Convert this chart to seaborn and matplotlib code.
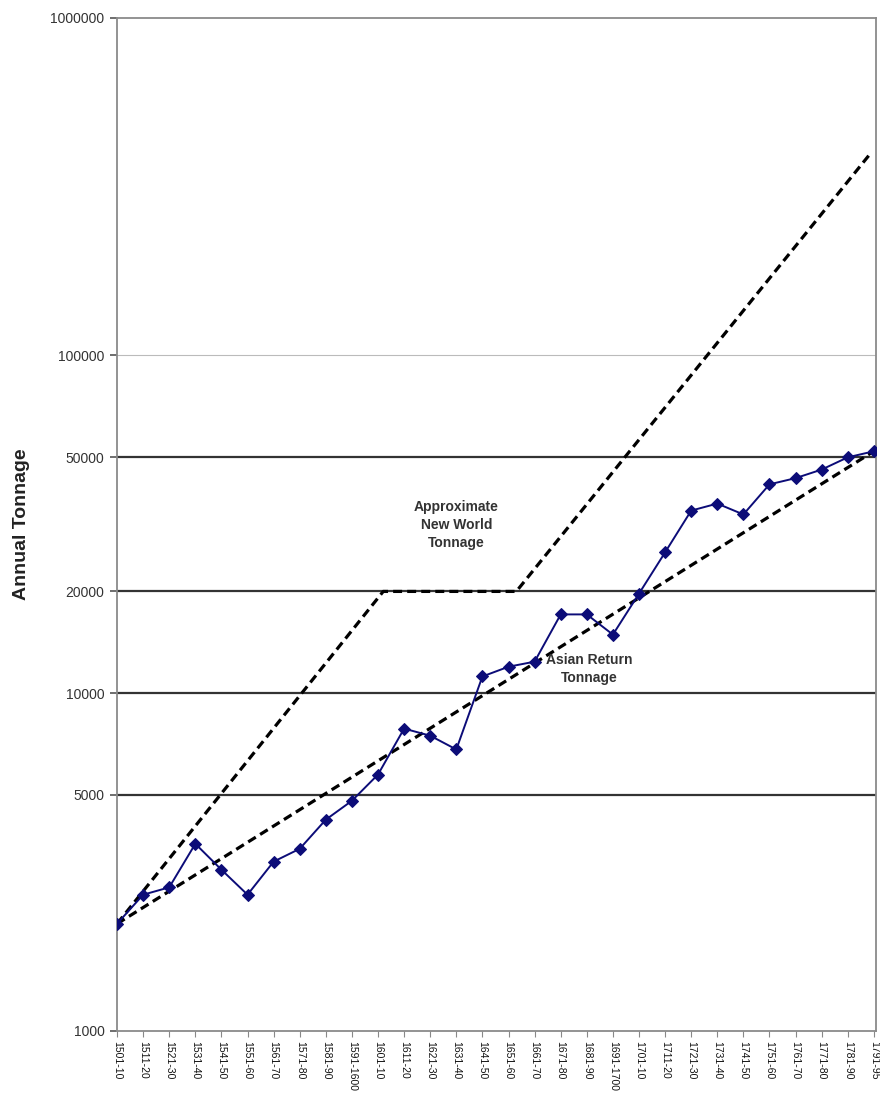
import pandas as pd
import matplotlib.pyplot as plt
import seaborn as sns

periods = ["1501-10", "1511-20", "1521-30", "1531-40", "1541-50", "1551-60",
           "1561-70", "1571-80", "1581-90", "1591-1600", "1601-10", "1611-20",
           "1621-30", "1631-40", "1641-50", "1651-60", "1661-70", "1671-80",
           "1681-90", "1691-1700", "1701-10", "1711-20", "1721-30", "1731-40",
           "1741-50", "1751-60", "1761-70", "1771-80", "1781-90", "1791-95"]
asian_tonnage = [2075, 2530, 2660, 3580, 3000, 2530, 3170, 3460, 4220, 4800,
                 5740, 7850, 7480, 6810, 11200, 11970, 12390, 17100, 17100, 14900,
                 19700, 26100, 34700, 36400, 33800, 41500, 43300, 45900, 49900, 52000]

# dashed trend lines (start year of period, tonnage)
asian_trend_years = [1501, 1791]
asian_trend = [2075, 52000]
nw_years = [1501, 1603, 1654, 1789]
nw_tonnage = [2075, 20000, 20000, 390000]

ref_levels = [5000, 10000, 20000, 50000]
ytick_values = [1000, 5000, 10000, 20000, 50000, 100000, 1000000]

years = [int(p[:4]) for p in periods]
df = pd.DataFrame({"Year": years, "Tonnage": asian_tonnage})

sns.set_style("white")
plt.rcParams["font.family"] = ["Liberation Sans", "DejaVu Sans"]

fig = plt.figure(figsize=(8.8, 10.99), dpi=100)
ax = fig.add_axes([0.133, 0.062, 0.863, 0.922])
ax.set_yscale("log")

ax.axhline(100000, color="#bbbbbb", lw=0.8, zorder=0)
for lvl in ref_levels:
    ax.axhline(lvl, color="#333333", lw=1.6, zorder=1)

dash = (0, (2.8, 1.6))
sns.lineplot(x=nw_years, y=nw_tonnage, color="black", lw=2.3, linestyle=dash, ax=ax, zorder=2)
sns.lineplot(x=asian_trend_years, y=asian_trend, color="black", lw=2.3, linestyle=dash, ax=ax, zorder=2)
sns.lineplot(data=df, x="Year", y="Tonnage", color="#0c0c78", lw=1.4, marker="D",
             markersize=6.5, markeredgecolor="#0c0c78", ax=ax, zorder=3)

ax.text(1631, 31500, "Approximate\nNew World\nTonnage", ha="center", va="center",
        fontsize=10, fontweight="bold", color="#333333", linespacing=1.35)
ax.text(1682, 11800, "Asian Return\nTonnage", ha="center", va="center",
        fontsize=10, fontweight="bold", color="#333333", linespacing=1.35)

ax.set_xlim(1501, 1792)
ax.set_ylim(1000, 1000000)
ax.set_xticks(years)
ax.set_xticklabels(periods, rotation=-90, fontsize=7.5, color="#111111")
ax.set_yticks(ytick_values)
ax.set_yticklabels([str(v) for v in ytick_values], fontsize=10, color="#333333")
ax.minorticks_off()
ax.tick_params(axis="x", direction="out", length=4, width=0.8, color="#888888", pad=3, bottom=True)
ax.tick_params(axis="y", direction="out", length=5, width=1.2, color="#555555", pad=4, left=True)

for side in ["left", "bottom", "top", "right"]:
    ax.spines[side].set_color("#8a8a8a")
    ax.spines[side].set_linewidth(1.3)

ax.set_xlabel("")
ax.set_ylabel("Annual Tonnage", fontsize=14, fontweight="bold", color="#222222")
ax.yaxis.set_label_coords(-0.114, 0.5)

plt.savefig("out.png", dpi=100)
